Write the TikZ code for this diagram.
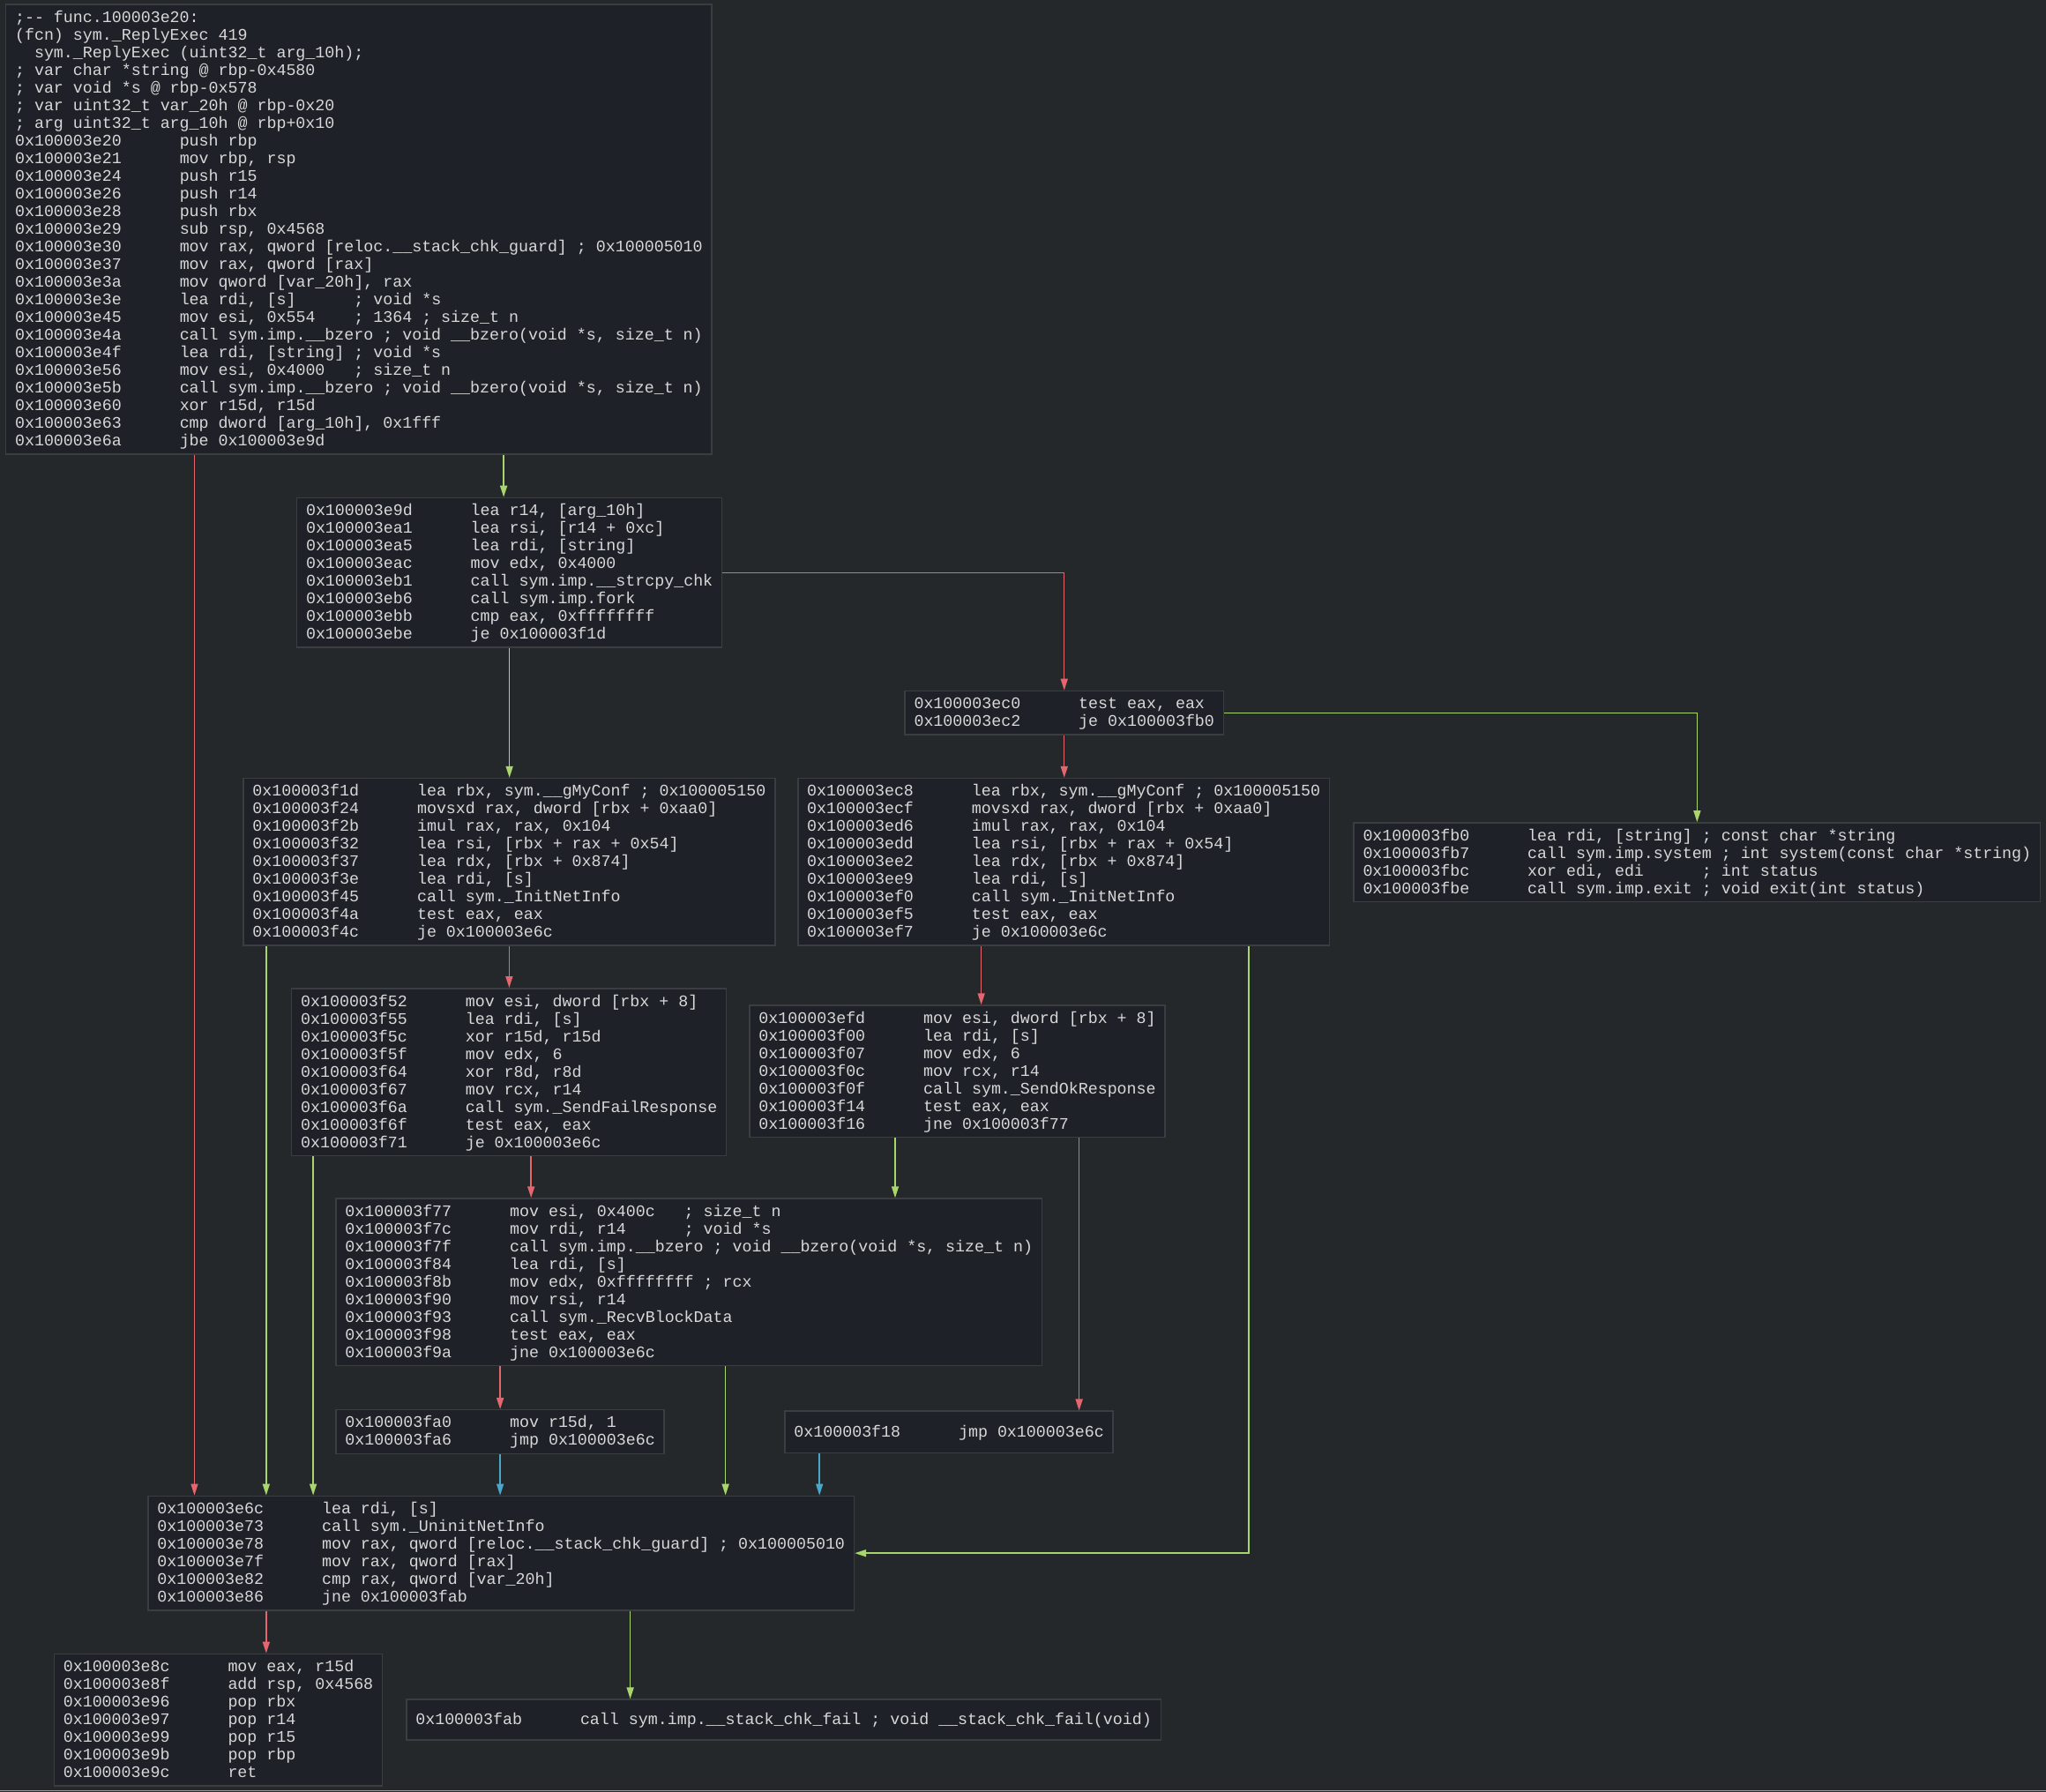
\documentclass[tikz,border=0pt]{standalone}
\usepackage{fontspec}
\setmonofont{Liberation Mono}
\usetikzlibrary{arrows.meta}
\definecolor{bgc}{HTML}{25282B}
\definecolor{nodec}{HTML}{1F2128}
\definecolor{borderc}{HTML}{3B3E41}
\definecolor{txtc}{HTML}{D8D8D8}
\definecolor{redc}{HTML}{E5666F}
\definecolor{grnc}{HTML}{A9D66C}
\definecolor{bluc}{HTML}{48A8CC}
\newcommand\codeline[2]{\rule[-4.6pt]{0pt}{20pt}\makebox[186.7pt][l]{#1}#2}
\newcommand\cmtline{\rule[-4.6pt]{0pt}{20pt}}
\tikzset{
  blk/.style={draw=borderc, line width=1.5pt, fill=nodec, text=txtc,
    font=\ttfamily\frenchspacing\fontsize{18.3pt}{20pt}\selectfont,
    align=left, inner xsep=10.4pt, inner ysep=4.8pt, anchor=north west},
  edge/.style={line width=1.5pt, -{Triangle[length=13pt,width=8pt]}},
  eR/.style={edge, draw=redc},
  eG/.style={edge, draw=grnc},
  eB/.style={edge, draw=bluc}
}
\begin{document}
\begin{tikzpicture}[x=1.4796pt,y=-1.4796pt]
\fill[bgc] (0,0) rectangle (1568,1373);
\useasboundingbox (0,0) rectangle (1568,1373);
\draw[line width=1.5pt, color=gray!80] (0,1372.4) -- (1568,1372.4);

\node[blk] (A) at (4,3) {%
\cmtline;-\kern0pt- func.100003e20:\\
\cmtline(fcn) sym.\_ReplyExec 419\\
\cmtline~~sym.\_ReplyExec (uint32\_t arg\_10h);\\
\cmtline; var char *string @ rbp-0x4580\\
\cmtline; var void *s @ rbp-0x578\\
\cmtline; var uint32\_t var\_20h @ rbp-0x20\\
\cmtline; arg uint32\_t arg\_10h @ rbp+0x10\\
\codeline{0x100003e20}{push rbp}\\
\codeline{0x100003e21}{mov rbp, rsp}\\
\codeline{0x100003e24}{push r15}\\
\codeline{0x100003e26}{push r14}\\
\codeline{0x100003e28}{push rbx}\\
\codeline{0x100003e29}{sub rsp, 0x4568}\\
\codeline{0x100003e30}{mov rax, qword [reloc.\_\_stack\_chk\_guard] ; 0x100005010}\\
\codeline{0x100003e37}{mov rax, qword [rax]}\\
\codeline{0x100003e3a}{mov qword [var\_20h], rax}\\
\codeline{0x100003e3e}{lea rdi, [s]~~~~~~; void *s}\\
\codeline{0x100003e45}{mov esi, 0x554~~~~; 1364 ; size\_t n}\\
\codeline{0x100003e4a}{call sym.imp.\_\_bzero ; void \_\_bzero(void *s, size\_t n)}\\
\codeline{0x100003e4f}{lea rdi, [string] ; void *s}\\
\codeline{0x100003e56}{mov esi, 0x4000~~~; size\_t n}\\
\codeline{0x100003e5b}{call sym.imp.\_\_bzero ; void \_\_bzero(void *s, size\_t n)}\\
\codeline{0x100003e60}{xor r15d, r15d}\\
\codeline{0x100003e63}{cmp dword [arg\_10h], 0x1fff}\\
\codeline{0x100003e6a}{jbe 0x100003e9d}};

\node[blk] (B) at (227,381) {%
\codeline{0x100003e9d}{lea r14, [arg\_10h]}\\
\codeline{0x100003ea1}{lea rsi, [r14 + 0xc]}\\
\codeline{0x100003ea5}{lea rdi, [string]}\\
\codeline{0x100003eac}{mov edx, 0x4000}\\
\codeline{0x100003eb1}{call sym.imp.\_\_strcpy\_chk}\\
\codeline{0x100003eb6}{call sym.imp.fork}\\
\codeline{0x100003ebb}{cmp eax, 0xffffffff}\\
\codeline{0x100003ebe}{je 0x100003f1d}};

\node[blk] (C) at (693,529) {%
\codeline{0x100003ec0}{test eax, eax}\\
\codeline{0x100003ec2}{je 0x100003fb0}};

\node[blk] (D) at (186,596) {%
\codeline{0x100003f1d}{lea rbx, sym.\_\_gMyConf ; 0x100005150}\\
\codeline{0x100003f24}{movsxd rax, dword [rbx + 0xaa0]}\\
\codeline{0x100003f2b}{imul rax, rax, 0x104}\\
\codeline{0x100003f32}{lea rsi, [rbx + rax + 0x54]}\\
\codeline{0x100003f37}{lea rdx, [rbx + 0x874]}\\
\codeline{0x100003f3e}{lea rdi, [s]}\\
\codeline{0x100003f45}{call sym.\_InitNetInfo}\\
\codeline{0x100003f4a}{test eax, eax}\\
\codeline{0x100003f4c}{je 0x100003e6c}};

\node[blk] (E) at (611,596) {%
\codeline{0x100003ec8}{lea rbx, sym.\_\_gMyConf ; 0x100005150}\\
\codeline{0x100003ecf}{movsxd rax, dword [rbx + 0xaa0]}\\
\codeline{0x100003ed6}{imul rax, rax, 0x104}\\
\codeline{0x100003edd}{lea rsi, [rbx + rax + 0x54]}\\
\codeline{0x100003ee2}{lea rdx, [rbx + 0x874]}\\
\codeline{0x100003ee9}{lea rdi, [s]}\\
\codeline{0x100003ef0}{call sym.\_InitNetInfo}\\
\codeline{0x100003ef5}{test eax, eax}\\
\codeline{0x100003ef7}{je 0x100003e6c}};

\node[blk] (F) at (1037,630) {%
\codeline{0x100003fb0}{lea rdi, [string] ; const char *string}\\
\codeline{0x100003fb7}{call sym.imp.system ; int system(const char *string)}\\
\codeline{0x100003fbc}{xor edi, edi~~~~~~; int status}\\
\codeline{0x100003fbe}{call sym.imp.exit ; void exit(int status)}};

\node[blk] (G) at (223,757) {%
\codeline{0x100003f52}{mov esi, dword [rbx + 8]}\\
\codeline{0x100003f55}{lea rdi, [s]}\\
\codeline{0x100003f5c}{xor r15d, r15d}\\
\codeline{0x100003f5f}{mov edx, 6}\\
\codeline{0x100003f64}{xor r8d, r8d}\\
\codeline{0x100003f67}{mov rcx, r14}\\
\codeline{0x100003f6a}{call sym.\_SendFailResponse}\\
\codeline{0x100003f6f}{test eax, eax}\\
\codeline{0x100003f71}{je 0x100003e6c}};

\node[blk] (H) at (574,770) {%
\codeline{0x100003efd}{mov esi, dword [rbx + 8]}\\
\codeline{0x100003f00}{lea rdi, [s]}\\
\codeline{0x100003f07}{mov edx, 6}\\
\codeline{0x100003f0c}{mov rcx, r14}\\
\codeline{0x100003f0f}{call sym.\_SendOkResponse}\\
\codeline{0x100003f14}{test eax, eax}\\
\codeline{0x100003f16}{jne 0x100003f77}};

\node[blk] (I) at (257,918) {%
\codeline{0x100003f77}{mov esi, 0x400c~~~; size\_t n}\\
\codeline{0x100003f7c}{mov rdi, r14~~~~~~; void *s}\\
\codeline{0x100003f7f}{call sym.imp.\_\_bzero ; void \_\_bzero(void *s, size\_t n)}\\
\codeline{0x100003f84}{lea rdi, [s]}\\
\codeline{0x100003f8b}{mov edx, 0xffffffff ; rcx}\\
\codeline{0x100003f90}{mov rsi, r14}\\
\codeline{0x100003f93}{call sym.\_RecvBlockData}\\
\codeline{0x100003f98}{test eax, eax}\\
\codeline{0x100003f9a}{jne 0x100003e6c}};

\node[blk] (J) at (257,1080) {%
\codeline{0x100003fa0}{mov r15d, 1}\\
\codeline{0x100003fa6}{jmp 0x100003e6c}};

\node[blk, minimum height=47.3pt] (K) at (601,1081) {%
\codeline{0x100003f18}{jmp 0x100003e6c}};

\node[blk] (L) at (113,1146) {%
\codeline{0x100003e6c}{lea rdi, [s]}\\
\codeline{0x100003e73}{call sym.\_UninitNetInfo}\\
\codeline{0x100003e78}{mov rax, qword [reloc.\_\_stack\_chk\_guard] ; 0x100005010}\\
\codeline{0x100003e7f}{mov rax, qword [rax]}\\
\codeline{0x100003e82}{cmp rax, qword [var\_20h]}\\
\codeline{0x100003e86}{jne 0x100003fab}};

\node[blk] (M) at (41,1267) {%
\codeline{0x100003e8c}{mov eax, r15d}\\
\codeline{0x100003e8f}{add rsp, 0x4568}\\
\codeline{0x100003e96}{pop rbx}\\
\codeline{0x100003e97}{pop r14}\\
\codeline{0x100003e99}{pop r15}\\
\codeline{0x100003e9b}{pop rbp}\\
\codeline{0x100003e9c}{ret}};

\node[blk, minimum height=45.9pt] (N) at (311,1302) {%
\codeline{0x100003fab}{call sym.imp.\_\_stack\_chk\_fail ; void \_\_stack\_chk\_fail(void)}};

% x positions of vertical connectors
\coordinate (x149) at (149,0);
\coordinate (x204) at (204,0);
\coordinate (x240) at (240,0);
\coordinate (x386) at (386,0);
\coordinate (x407) at (407,0);
\coordinate (x483) at (483,0);
\coordinate (x556) at (556,0);
\coordinate (x628) at (628,0);
\coordinate (x686) at (686,0);
\coordinate (x752) at (752,0);
\coordinate (x827) at (827,0);
\coordinate (x957) at (957,0);

\draw[eG] (A.south -| x386) -- (B.north -| x386);
\draw[eR] (A.south -| x149) -- (L.north -| x149);
\draw[eR] (B.east) -| (C.north);
\draw[eG] (B.south) -- (B.south |- D.north);
\draw[eG] (C.east) -| (F.north);
\draw[eR] (C.south) -- (C.south |- E.north);
\draw[eG] (D.south -| x204) -- (L.north -| x204);
\draw[eR] (D.south) -- (D.south |- G.north);
\draw[eR] (E.south -| x752) -- (H.north -| x752);
\draw[eG] (E.south -| x957) |- (L.east);
\draw[eG] (G.south -| x240) -- (L.north -| x240);
\draw[eR] (G.south -| x407) -- (I.north -| x407);
\draw[eG] (H.south -| x686) -- (I.north -| x686);
\draw[eR] (H.south -| x827) -- (K.north -| x827);
\draw[eR] (I.south -| J.north) -- (J.north);
\draw[eG] (I.south -| x556) -- (L.north -| x556);
\draw[eB] (J.south) -- (J.south |- L.north);
\draw[eB] (K.south -| x628) -- (L.north -| x628);
\draw[eR] (L.south -| x204) -- (M.north -| x204);
\draw[eG] (L.south -| x483) -- (N.north -| x483);
\end{tikzpicture}
\end{document}
